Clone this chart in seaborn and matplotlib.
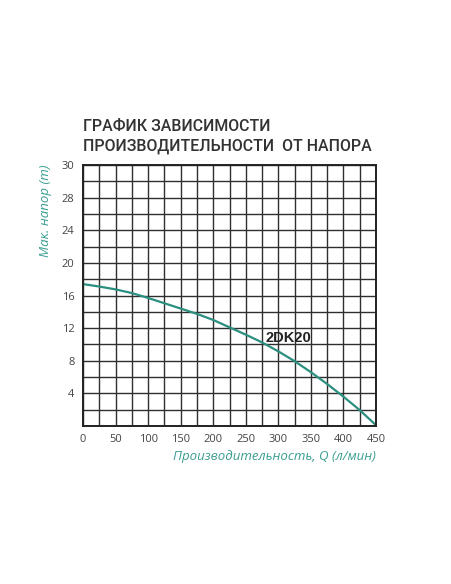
import numpy as np
import pandas as pd
import matplotlib
matplotlib.use("Agg")
import matplotlib.pyplot as plt
import seaborn as sns

# flow (l/min) and head (m)
flow = [0, 25, 50, 75, 100, 125, 150, 175, 200, 225, 250, 275, 300, 325, 350, 375, 400, 425, 450]
head = [17.4, 17.1, 16.75, 16.3, 15.7, 15.05, 14.4, 13.75, 13.0, 12.1, 11.2, 10.25, 9.15, 7.95, 6.6, 5.15, 3.6, 1.95, 0.1]

x_ticks = [0, 50, 100, 150, 200, 250, 300, 350, 400, 450]
y_tick_labels = ["4", "8", "12", "16", "20", "24", "28", "30"]
title_lines = ["ГРАФИК ЗАВИСИМОСТИ", "ПРОИЗВОДИТЕЛЬНОСТИ  ОТ НАПОРА"]
model = "2DK20"

teal = "#2b8f80"
label_teal = "#3a9e91"

sns.set_style("white")
plt.rcParams["font.family"] = ["Open Sans", "DejaVu Sans"]

df = pd.DataFrame({"Q": flow, "H": head})

fig = plt.figure(figsize=(4.52, 5.84), dpi=100)
ax = fig.add_axes([0.1836, 0.2705, 0.6483, 0.447])

sns.lineplot(data=df, x="Q", y="H", ax=ax, color=teal, linewidth=1.6)

ax.set_xlim(0, 450)
ax.set_ylim(0, 32)
ax.set_xticks(np.arange(0, 451, 25), minor=True)
ax.set_yticks(np.arange(0, 33, 2), minor=True)
ax.set_xticks(x_ticks)
ax.set_yticks([4, 8, 12, 16, 20, 24, 28, 32])
ax.set_yticklabels(y_tick_labels)
ax.grid(True, which="both", color="#2f2f2f", linewidth=1.0)
ax.tick_params(which="both", length=0, labelsize=8, colors="#444444", pad=6)
for s in ax.spines.values():
    s.set_color("#222222")
    s.set_linewidth(1.4)

ax.set_xlabel("Производительность, Q (л/мин)", color=label_teal, fontsize=9.5,
              style="italic", labelpad=3, loc="right")
ax.set_ylabel("Мак. напор (m)", color=label_teal, fontsize=9.5,
              style="italic", labelpad=7, loc="top")

ax.text(315, 10.8, model, fontsize=10.5, fontweight="bold", color="#222222",
        ha="center", va="center", family="Liberation Sans")

fig.text(0.1836, 0.7757, title_lines[0], fontsize=11.4, color="#333333",
         family="Roboto", fontweight="medium", va="baseline")
fig.text(0.1836, 0.7414, title_lines[1], fontsize=11.4, color="#333333",
         family="Roboto", fontweight="medium", va="baseline")

fig.savefig("out.png", dpi=100)
